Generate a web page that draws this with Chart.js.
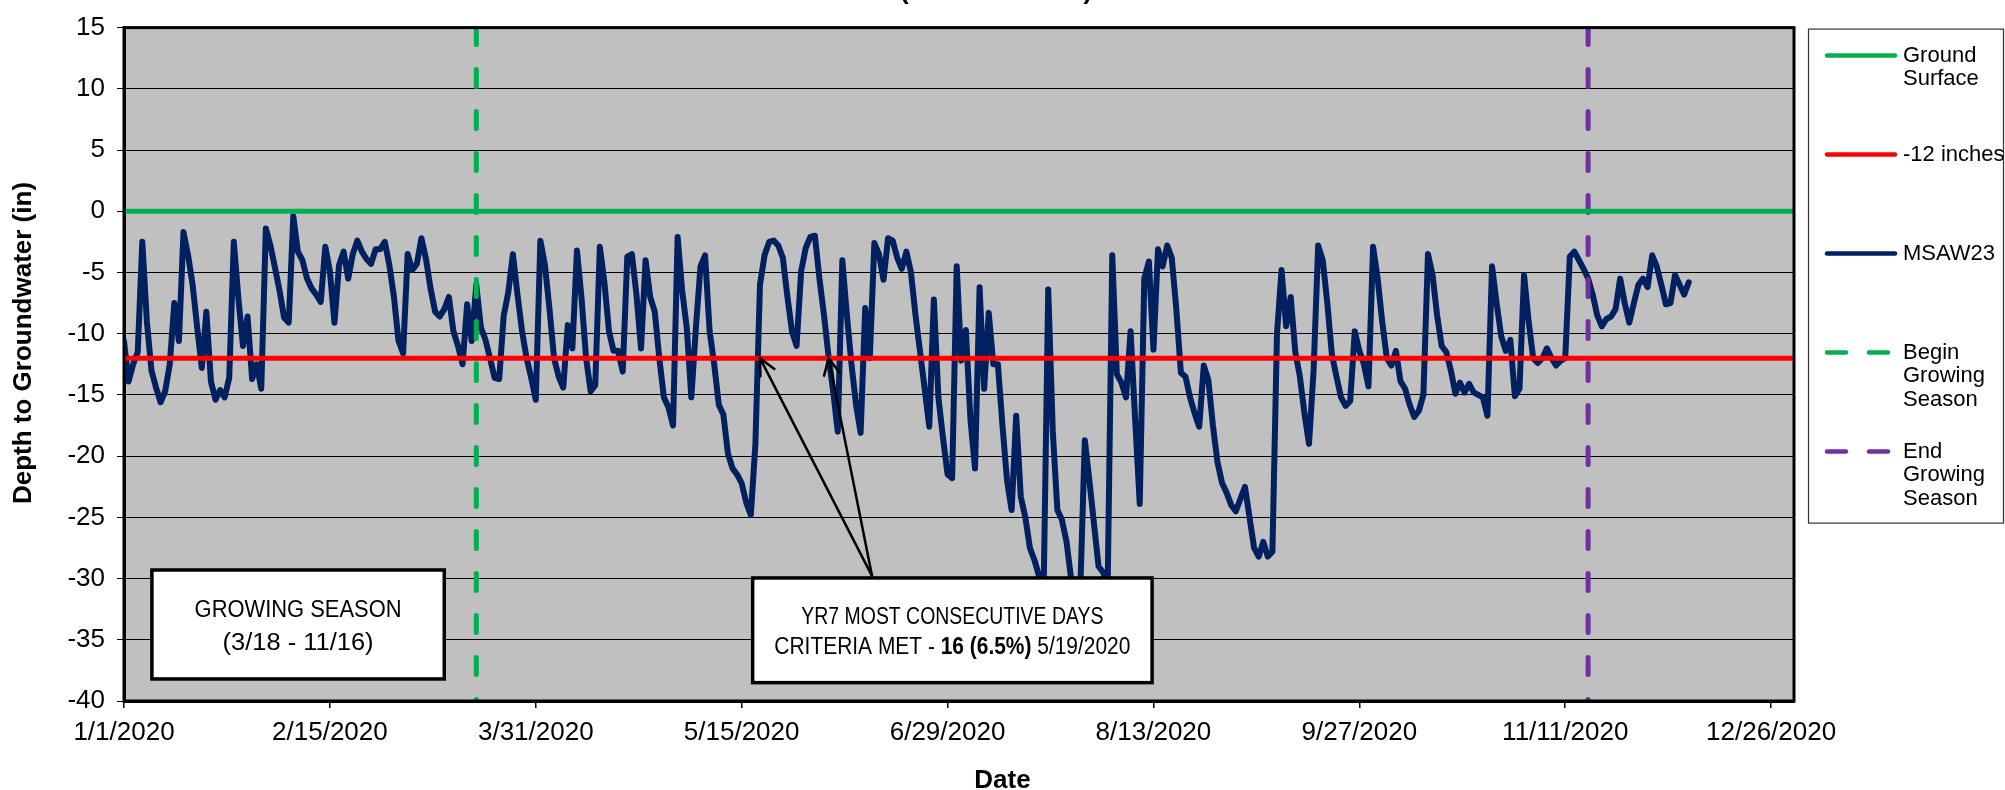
<!DOCTYPE html>
<html>
<head>
<meta charset="utf-8">
<script src="https://cdn.jsdelivr.net/npm/chart.js@4.4.0/dist/chart.umd.min.js"></script>
<style>
  html, body { margin: 0; padding: 0; background: #fff; }
  #wrap { width: 2005px; height: 790px; }
</style>
</head>
<body>
<div id="wrap"><canvas id="gwChart" width="2005" height="790"></canvas></div>
<script>
// --- data ---
const startDate = '1/1/2020';
const endDate = '12/31/2020';
const xTickLabels = ['1/1/2020', '2/15/2020', '3/31/2020', '5/15/2020', '6/29/2020',
  '8/13/2020', '9/27/2020', '11/11/2020', '12/26/2020'];
const yTickValues = [15, 10, 5, 0, -5, -10, -15, -20, -25, -30, -35, -40];
const seriesNames = ['Ground Surface', '-12 inches', 'MSAW23', 'Begin Growing Season', 'End Growing Season'];
const groundSurface = 0;
const criteriaDepth = -12;
const seasonStart = '3/18/2020';
const seasonEnd = '11/16/2020';
const criteriaStart = '5/19/2020';
const criteriaEnd = '6/3/2020';

// daily depth to groundwater (in), starting 1/1/2020
const msaw23 = [
  -10.6, -13.9, -12.5, -11.5, -2.5, -9.0, -13.0, -14.4, -15.6, -14.7,
  -12.5, -7.5, -10.6, -1.7, -3.6, -6.0, -9.5, -12.8, -8.2, -13.9,
  -15.4, -14.6, -15.2, -13.6, -2.5, -7.1, -11.0, -8.6, -13.7, -12.5,
  -14.5, -1.4, -2.8, -4.6, -6.5, -8.7, -9.1, -0.4, -3.3, -4.0,
  -5.5, -6.3, -6.8, -7.4, -2.9, -4.9, -9.1, -4.4, -3.3, -5.5,
  -3.5, -2.4, -3.3, -3.9, -4.3, -3.1, -3.1, -2.5, -4.4, -7.0,
  -10.6, -11.6, -3.5, -4.8, -4.3, -2.2, -3.9, -6.3, -8.2, -8.6,
  -8.0, -7.0, -9.8, -11.0, -12.5, -7.6, -10.6, -6.0, -9.5, -10.5,
  -12.0, -13.6, -13.7, -8.5, -6.6, -3.5, -6.8, -9.8, -12.0, -13.6,
  -15.4, -2.4, -4.4, -8.0, -12.0, -13.5, -14.4, -9.3, -11.2, -3.2,
  -7.1, -12.0, -14.7, -14.2, -2.9, -5.8, -9.8, -11.4, -11.4, -13.1,
  -3.7, -3.5, -6.8, -11.2, -4.0, -7.0, -8.2, -12.0, -15.2, -16.0,
  -17.5, -2.1, -6.5, -9.5, -15.2, -9.5, -4.5, -3.6, -9.8, -12.5,
  -15.8, -16.6, -19.8, -21.0, -21.5, -22.2, -23.8, -24.8, -19.0, -6.0,
  -3.6, -2.5, -2.4, -2.8, -3.8, -7.0, -9.8, -11.0, -4.9, -3.0,
  -2.1, -2.0, -5.5, -8.5, -11.9, -14.7, -18.0, -4.0, -8.5, -12.5,
  -15.8, -18.1, -7.9, -12.0, -2.6, -3.5, -5.6, -2.2, -2.4, -3.8,
  -4.7, -3.3, -5.0, -8.5, -11.5, -14.5, -17.6, -7.2, -15.2, -18.5,
  -21.5, -21.8, -4.5, -12.2, -9.7, -17.0, -21.0, -6.2, -14.5, -8.3,
  -12.5, -12.5, -17.5, -22.0, -24.4, -16.7, -23.3, -25.0, -27.5, -28.5,
  -29.8, -31.0, -6.4, -18.0, -24.4, -25.2, -27.0, -30.0, -31.5, -31.0,
  -18.7, -22.0, -25.5, -29.0, -29.5, -30.5, -3.6, -13.3, -14.0, -15.2,
  -9.8, -17.0, -23.9, -5.5, -4.1, -11.3, -3.1, -4.5, -2.8, -3.8,
  -8.0, -13.2, -13.5, -15.2, -16.5, -17.6, -12.6, -13.8, -17.5, -20.5,
  -22.2, -23.0, -24.0, -24.5, -23.5, -22.5, -25.0, -27.5, -28.2, -27.0,
  -28.2, -27.8, -10.0, -4.8, -9.4, -7.0, -11.5, -13.5, -16.5, -19.0,
  -13.0, -2.8, -4.0, -7.5, -11.7, -13.5, -15.2, -15.9, -15.5, -9.8,
  -11.4, -12.5, -14.3, -2.9, -5.5, -9.0, -12.0, -12.6, -11.4, -13.9,
  -14.5, -15.8, -16.8, -16.3, -15.0, -3.5, -5.2, -8.5, -11.0, -11.5,
  -13.0, -14.9, -14.0, -14.8, -14.1, -14.8, -15.0, -15.2, -16.7, -4.5,
  -7.5, -10.2, -11.4, -10.5, -15.1, -14.5, -5.2, -9.0, -12.0, -12.4,
  -12.0, -11.2, -12.0, -12.6, -12.2, -12.0, -3.7, -3.3, -4.0, -4.7,
  -5.5, -6.8, -8.5, -9.4, -8.8, -8.6, -8.0, -5.5, -7.5, -9.1,
  -7.5, -6.0, -5.5, -6.2, -3.6, -4.5, -6.0, -7.6, -7.5, -5.2,
  -6.0, -6.8, -5.8
];

// --- helpers ---
function dayOf(str) {
  const [m, d, y] = str.split('/').map(Number);
  const [m0, d0, y0] = startDate.split('/').map(Number);
  return Math.round((Date.UTC(y, m - 1, d) - Date.UTC(y0, m0 - 1, d0)) / 86400000);
}
const xTickDays = xTickLabels.map(dayOf);
const xMin = 0;
const xMax = dayOf(endDate);
const yMin = Math.min(...yTickValues);
const yMax = Math.max(...yTickValues);

const FONT = '"Liberation Sans", Arial, sans-serif';
const GREEN = '#00B050', RED = '#FF0000', NAVY = '#002060', PURPLE = '#7030A0';

// annotation layout (data units)
const notes = {
  season: { x0: 6.1, x1: 70.0, y0: -29.3, y1: -38.2,
    lines: [[{ t: 'GROWING SEASON' }], [{ t: '(3/18 - 11/16)' }]],
    offsets: [41, 74], widths: [207, 151] },
  criteria: { x0: 137.4, x1: 224.7, y0: -29.95, y1: -38.5,
    lines: [[{ t: 'YR7 MOST CONSECUTIVE DAYS' }],
            [{ t: 'CRITERIA MET - ' }, { t: '16 (6.5%)', bold: true }, { t: ' 5/19/2020' }]],
    offsets: [40, 70], widths: [302, 356] },
  arrowBase: { x: 163.5, y: -29.8 }
};

function drawRuns(ctx, runs, cx, cy, width, size) {
  let total = 0;
  runs.forEach(r => {
    ctx.font = (r.bold ? 'bold ' : '') + size + 'px ' + FONT;
    r.w = ctx.measureText(r.t).width;
    total += r.w;
  });
  const k = width / total;
  ctx.save();
  ctx.translate(cx - width / 2, cy);
  ctx.scale(k, 1);
  ctx.textAlign = 'left';
  ctx.textBaseline = 'middle';
  let x = 0;
  runs.forEach(r => {
    ctx.font = (r.bold ? 'bold ' : '') + size + 'px ' + FONT;
    ctx.fillText(r.t, x, 0);
    x += r.w;
  });
  ctx.restore();
}

function arrow(ctx, x0, y0, x1, y1) {
  const a = Math.atan2(y1 - y0, x1 - x0), L = 18, h = 0.45;
  ctx.beginPath();
  ctx.moveTo(x0, y0);
  ctx.lineTo(x1, y1);
  ctx.moveTo(x1 - L * Math.cos(a - h), y1 - L * Math.sin(a - h));
  ctx.lineTo(x1, y1);
  ctx.lineTo(x1 - L * Math.cos(a + h), y1 - L * Math.sin(a + h));
  ctx.stroke();
}

function wrap(ctx, text, maxW) {
  const words = text.split(' ');
  const lines = [];
  let cur = '';
  for (const w of words) {
    const t = cur ? cur + ' ' + w : w;
    if (cur && ctx.measureText(t).width > maxW) { lines.push(cur); cur = w; } else cur = t;
  }
  lines.push(cur);
  return lines;
}

const plotBg = {
  id: 'plotBg',
  beforeDraw(chart) {
    const { ctx, chartArea: a } = chart;
    ctx.save();
    ctx.fillStyle = '#fff';
    ctx.fillRect(0, 0, chart.width, chart.height);
    ctx.fillStyle = '#C0C0C0';
    ctx.fillRect(a.left, a.top, a.right - a.left, a.bottom - a.top);
    ctx.restore();
  }
};

const extras = {
  id: 'extras',
  afterDraw(chart) {
    const { ctx, chartArea: a, scales: { x, y } } = chart;
    ctx.save();
    // frame
    ctx.strokeStyle = '#000';
    ctx.lineWidth = 3;
    ctx.strokeRect(a.left, a.top, a.right - a.left, a.bottom - a.top);

    // callout arrows
    ctx.lineWidth = 2.5;
    ctx.lineCap = 'round';
    const bx = x.getPixelForValue(notes.arrowBase.x), by = y.getPixelForValue(notes.arrowBase.y);
    [criteriaStart, criteriaEnd].forEach(d => {
      arrow(ctx, bx, by, x.getPixelForValue(dayOf(d)), y.getPixelForValue(criteriaDepth));
    });

    // text boxes
    [notes.season, notes.criteria].forEach(n => {
      const l = x.getPixelForValue(n.x0), r = x.getPixelForValue(n.x1);
      const t = y.getPixelForValue(n.y0), b = y.getPixelForValue(n.y1);
      ctx.fillStyle = '#fff';
      ctx.fillRect(l, t, r - l, b - t);
      ctx.lineWidth = 3.5;
      ctx.strokeStyle = '#000';
      ctx.strokeRect(l, t, r - l, b - t);
      ctx.fillStyle = '#000';
      n.lines.forEach((runs, i) => drawRuns(ctx, runs, (l + r) / 2, t + n.offsets[i], n.widths[i], 23));
    });

    // axis titles
    ctx.fillStyle = '#000';
    ctx.font = 'bold 26px ' + FONT;
    ctx.textAlign = 'center';
    ctx.textBaseline = 'alphabetic';
    ctx.fillText('Date', chart.width / 2, 788);
    ctx.save();
    ctx.translate(24, 343);
    ctx.rotate(-Math.PI / 2);
    ctx.textBaseline = 'middle';
    ctx.fillText('Depth to Groundwater (in)', 0, 0);
    ctx.restore();
    // chart title (mostly above the visible area)
    ctx.fillText('(YEAR 7 - 2020)', 996, -1);

    // legend
    const L = { left: a.right + 14, top: a.top + 1, width: 196, height: 495 };
    ctx.fillStyle = '#fff';
    ctx.fillRect(L.left, L.top, L.width, L.height);
    ctx.strokeStyle = '#333';
    ctx.lineWidth = 1.2;
    ctx.strokeRect(L.left + 0.5, L.top + 0.5, L.width - 1, L.height - 1);
    ctx.font = '22px ' + FONT;
    ctx.textAlign = 'left';
    ctx.textBaseline = 'middle';
    chart.data.datasets.forEach((ds, i) => {
      const cy = L.top + 27 + i * 99;
      ctx.strokeStyle = ds.borderColor;
      ctx.lineWidth = 4.5;
      ctx.lineCap = 'round';
      ctx.setLineDash(ds.borderDash ? [19, 23] : []);
      ctx.beginPath();
      ctx.moveTo(L.left + 19, cy);
      ctx.lineTo(L.left + 87, cy);
      ctx.stroke();
      ctx.setLineDash([]);
      ctx.fillStyle = '#000';
      wrap(ctx, ds.label, 104).forEach((line, j) => ctx.fillText(line, L.left + 95, cy + j * 23.5));
    });
    ctx.restore();
  }
};

const common = { pointRadius: 0, fill: false, tension: 0, borderJoinStyle: 'round', borderCapStyle: 'round' };
const datasets = [
  { ...common, label: seriesNames[0], borderColor: GREEN, borderWidth: 5, order: 1, borderCapStyle: 'butt',
    data: [{ x: xMin, y: groundSurface }, { x: xMax, y: groundSurface }] },
  { ...common, label: seriesNames[1], borderColor: RED, borderWidth: 5, order: 1, borderCapStyle: 'butt',
    data: [{ x: xMin, y: criteriaDepth }, { x: xMax, y: criteriaDepth }] },
  { ...common, label: seriesNames[2], borderColor: NAVY, borderWidth: 6, order: 5,
    data: msaw23.map((v, i) => ({ x: i, y: v })) },
  { ...common, label: seriesNames[3], borderColor: GREEN, borderWidth: 5, order: 1, borderDash: [17, 25],
    data: [{ x: dayOf(seasonStart), y: yMax }, { x: dayOf(seasonStart), y: yMin }] },
  { ...common, label: seriesNames[4], borderColor: PURPLE, borderWidth: 5, order: 1, borderDash: [17, 25],
    data: [{ x: dayOf(seasonEnd), y: yMax }, { x: dayOf(seasonEnd), y: yMin }] }
];

new Chart(document.getElementById('gwChart').getContext('2d'), {
  type: 'line',
  data: { datasets },
  options: {
    responsive: false,
    animation: false,
    devicePixelRatio: 1,
    layout: { padding: { left: 0, top: 22, right: 211, bottom: 0 } },
    plugins: { legend: { display: false }, tooltip: { enabled: false }, title: { display: false } },
    scales: {
      x: {
        type: 'linear',
        min: xMin,
        max: xMax,
        afterBuildTicks: s => { s.ticks = xTickDays.map(v => ({ value: v })); },
        afterFit: s => { s.height = 89; },
        grid: { drawOnChartArea: false, drawTicks: true, tickLength: 7, color: '#000', lineWidth: 1.5 },
        border: { display: true, color: '#000', width: 3 },
        ticks: {
          font: { family: FONT, size: 26 },
          color: '#000',
          padding: 9,
          maxRotation: 0,
          autoSkip: false,
          callback: v => xTickLabels[xTickDays.indexOf(v)]
        }
      },
      y: {
        type: 'linear',
        min: yMin,
        max: yMax,
        afterBuildTicks: s => { s.ticks = yTickValues.map(v => ({ value: v })); },
        afterFit: s => { s.width = 124; },
        grid: { color: '#000', lineWidth: 1, tickLength: 7 },
        border: { display: true, color: '#000', width: 3 },
        ticks: {
          font: { family: FONT, size: 26 },
          color: '#000',
          padding: 12,
          callback: v => String(v)
        }
      }
    }
  },
  plugins: [plotBg, extras]
});
</script>
</body>
</html>
